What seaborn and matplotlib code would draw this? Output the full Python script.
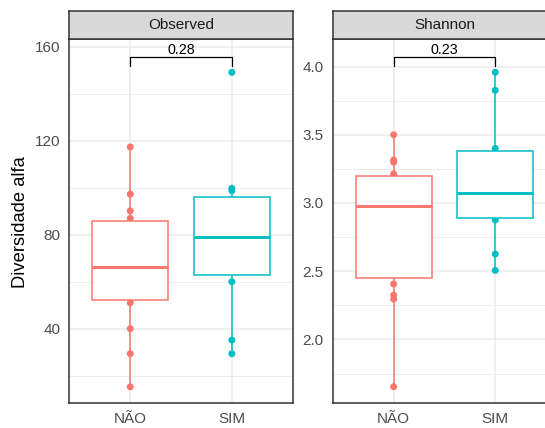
import numpy as np
import pandas as pd
import matplotlib
matplotlib.use("Agg")
import matplotlib.pyplot as plt
import seaborn as sns

# ---- data ----
groups = ["NÃO", "SIM"]
observed_nao = [15.2, 29.3, 40.0, 51.0, 55.8, 60.0, 65.0, 67.4, 75.0, 83.0, 87.0, 90.2, 97.3, 117.4]
observed_sim = [29.3, 35.1, 60.0, 70.8, 76.0, 82.2, 88.7, 98.7, 99.8, 149.2]
shannon_nao = [1.653, 2.296, 2.325, 2.406, 2.572, 2.75, 2.93, 3.02, 3.08, 3.142, 3.213, 3.30, 3.315, 3.50]
shannon_sim = [2.506, 2.626, 2.875, 2.927, 3.03, 3.112, 3.332, 3.40, 3.826, 3.958]
facet_titles = ["Observed", "Shannon"]
p_values = ["0.28", "0.23"]
obs_ticks = [40, 80, 120, 160]
obs_minor = [20, 60, 100, 140]
sha_ticks = [2.0, 2.5, 3.0, 3.5, 4.0]
sha_minor = [1.75, 2.25, 2.75, 3.25, 3.75]
ylabel = "Diversidade alfa"

palette = {"NÃO": "#F8766D", "SIM": "#00BFC4"}

sns.set_style("white")
plt.rcParams["font.family"] = ["Liberation Sans", "DejaVu Sans"]


def make_df(a, b):
    return pd.DataFrame({
        "grupo": [groups[0]] * len(a) + [groups[1]] * len(b),
        "valor": list(a) + list(b),
    })


df_obs = make_df(observed_nao, observed_sim)
df_sha = make_df(shannon_nao, shannon_sim)

W_px, H_px = 545, 428
fig = plt.figure(figsize=(W_px / 100, H_px / 100), dpi=100)

panel_w = 223.5 / W_px
panel_b = (H_px - 403) / H_px
panel_h = (403 - 39) / H_px
strip_b = (H_px - 39) / H_px
strip_h = 28.3 / H_px
lefts = [69.3 / W_px, 332.7 / W_px]

border = "#333333"


def color_for_x(x):
    return palette[groups[int(round(x))]]


def draw_panel(ax, df, ylim, ticks, minor, ticklabels, bracket, title, pval):
    sns.stripplot(data=df, x="grupo", y="valor", hue="grupo", order=groups,
                  hue_order=groups, palette=palette, jitter=False, size=5.0,
                  linewidth=0, legend=False, ax=ax, zorder=1)
    sns.boxplot(data=df, x="grupo", y="valor", hue="grupo", order=groups,
                hue_order=groups, palette=palette, width=0.75, linewidth=1.1,
                showfliers=False, showcaps=False, legend=False, ax=ax,
                medianprops=dict(linewidth=2.1))
    for p in ax.patches:
        verts = p.get_path().vertices
        xm = np.mean(verts[:, 0])
        c = color_for_x(xm)
        p.set_facecolor("white")
        p.set_edgecolor(c)
        p.set_zorder(3)
    for ln in ax.lines:
        xd = np.asarray(ln.get_xdata(), dtype=float)
        if len(xd) == 0:
            continue
        ln.set_color(color_for_x(np.mean(xd)))
        ln.set_zorder(3)

    ax.set_xlim(-0.6, 1.6)
    ax.set_ylim(*ylim)
    ax.set_yticks(ticks)
    ax.set_yticklabels(ticklabels)
    ax.set_yticks(minor, minor=True)
    ax.set_xlabel("")
    ax.set_ylabel("")
    ax.set_axisbelow(True)
    ax.grid(True, which="major", color="#EBEBEB", lw=1.1)
    ax.yaxis.grid(True, which="minor", color="#EBEBEB", lw=0.6)
    ax.tick_params(axis="both", which="major", length=3.4, width=1.0,
                   color=border, labelcolor="#4D4D4D", labelsize=11, pad=3)
    ax.tick_params(axis="both", which="minor", length=0)
    for s in ax.spines.values():
        s.set_visible(True)
        s.set_color(border)
        s.set_linewidth(1.1)

    y_low, y_top, y_txt = bracket
    ax.plot([0, 0, 1, 1], [y_low, y_top, y_top, y_low], color="black",
            lw=0.9, zorder=4, clip_on=False)
    ax.text(0.5, y_txt, pval, ha="center", va="baseline", fontsize=10.3,
            color="black", zorder=5)


ax1 = fig.add_axes([lefts[0], panel_b, panel_w, panel_h])
draw_panel(ax1, df_obs, (8.3, 163.4), obs_ticks, obs_minor,
           [str(t) for t in obs_ticks], (151.9, 155.6, 156.9),
           facet_titles[0], p_values[0])

ax2 = fig.add_axes([lefts[1], panel_b, panel_w, panel_h])
draw_panel(ax2, df_sha, (1.534, 4.202), sha_ticks, sha_minor,
           [f"{t:.1f}" for t in sha_ticks], (4.004, 4.068, 4.090),
           facet_titles[1], p_values[1])

for left, title in zip(lefts, facet_titles):
    sax = fig.add_axes([left, strip_b, panel_w, strip_h])
    sax.set_facecolor("#D9D9D9")
    sax.set_xticks([])
    sax.set_yticks([])
    for s in sax.spines.values():
        s.set_visible(True)
        s.set_color(border)
        s.set_linewidth(1.1)
    sax.text(0.5, 0.5, title, ha="center", va="center", fontsize=11,
             color="#1A1A1A", transform=sax.transAxes)

fig.text(20.7 / W_px, 1 - 222.5 / H_px, ylabel, rotation=90, ha="center",
         va="center", fontsize=13.2, color="black")

fig.savefig("out.png", dpi=100)
